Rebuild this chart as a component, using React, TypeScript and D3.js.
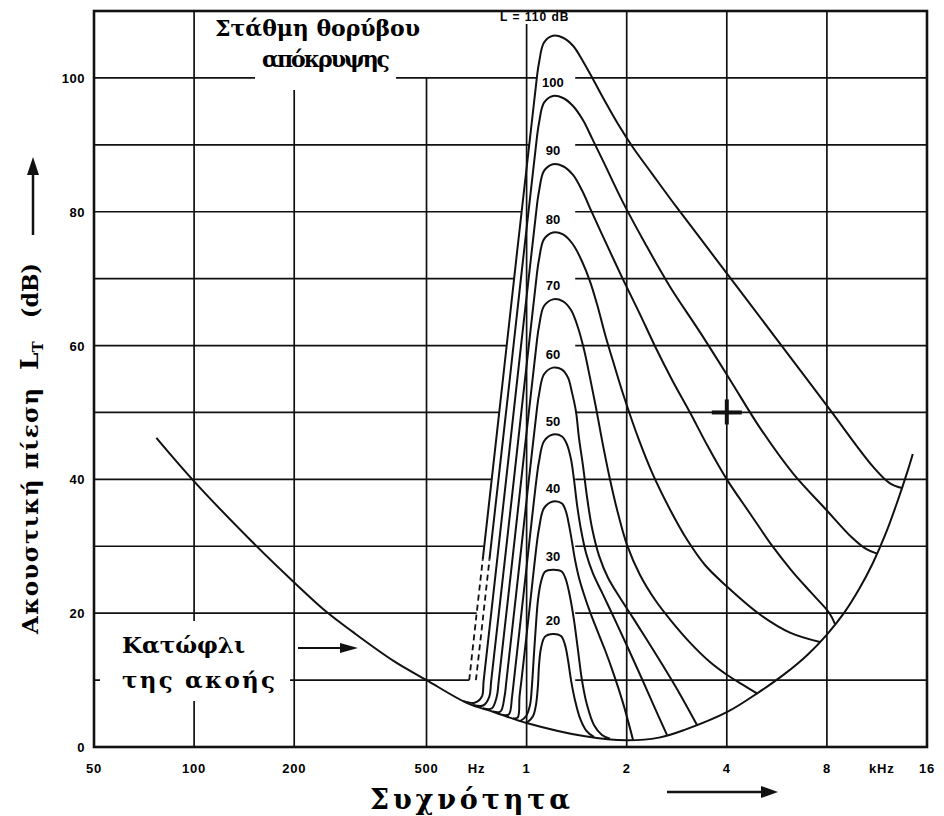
import React from 'react';
import * as d3 from 'd3';

type Pt = [number, number];

// ---- data (frequency in Hz, level in dB) ----
const hearingThreshold: Pt[] = [
  [77, 46.2], [100, 39.7], [150, 30.6], [200, 24.6], [250, 20.2], [300, 17.2], [400, 12.8],
  [500, 10.0], [660, 6.6], [800, 5.2], [1000, 3.6], [1500, 1.6], [2000, 1.0], [2500, 1.4],
  [3000, 2.6], [4000, 5.2], [5000, 8.2], [6000, 11], [7000, 13.8], [8000, 16.8], [9000, 20],
  [10000, 23.6], [11000, 27.5], [12000, 31.8], [13000, 36.5], [14000, 41.3], [14500, 43.8],
];

const noise110Dashed: Pt[] = [[672, 10], [704, 19], [738, 28]];
const noise110: Pt[] = [
  [738, 28], [849, 55], [1075, 100.3], [1090, 102.3], [1128, 105.3], [1200, 106.3], [1287, 106.0],
  [1379, 104.8], [1477, 102.5], [1584, 99.8], [1721, 96.5], [1883, 93.1], [2089, 89.6],
  [2382, 85.7], [2833, 80.6], [4000, 70.8], [5662, 60.9], [8115, 50.6], [11007, 41.9],
  [12382, 39.4], [13455, 38.7],
];
const noise100Dashed: Pt[] = [[704, 10], [738, 19], [773, 28]];
const noise100: Pt[] = [
  [773, 28], [890, 55], [1075, 91.3], [1090, 93.3], [1128, 96.3], [1200, 97.3], [1287, 97.0],
  [1379, 95.8], [1477, 93.7], [1572, 91.0], [1709, 87.3], [1949, 81.4], [2270, 75.3],
  [2699, 68.8], [3322, 62.0], [4089, 54.9], [5033, 47.7], [6325, 40.9], [7947, 35.5],
  [9515, 31.3], [10486, 29.6], [11317, 28.9],
];
const noise90: Pt[] = [
  [644, 6.9], [697, 6.6], [733, 7.5], [743, 10], [893, 45.5], [1075, 81.1], [1090, 83.1],
  [1128, 86.1], [1200, 87.1], [1287, 86.8], [1379, 85.5], [1467, 83.2], [1572, 79.9],
  [1745, 75.0], [1949, 69.9], [2177, 65.0], [2433, 59.9], [2736, 54.9], [3100, 50.0],
  [3511, 44.9], [4000, 40.0], [4697, 34.9], [5508, 29.9], [6282, 26.3], [7164, 23.1],
  [8115, 20.1], [8459, 18.4],
];
const noise80: Pt[] = [
  [690, 6.3], [740, 6.2], [772, 7.5], [783, 10], [918, 40.5], [1075, 70.9], [1090, 72.9],
  [1128, 75.9], [1200, 76.9], [1287, 76.6], [1379, 75.1], [1467, 72.6], [1551, 69.6],
  [1628, 66.2], [1721, 61.7], [1831, 57.2], [1976, 51.9], [2177, 45.9], [2399, 40.7],
  [2699, 35.5], [3036, 31.0], [3439, 27.2], [4000, 24.0], [5033, 19.8], [6195, 17.1], [7624, 15.7],
];
const noise70: Pt[] = [
  [739, 5.8], [785, 5.75], [813, 7.5], [825, 10], [942, 35.5], [1075, 60.9], [1090, 62.9],
  [1128, 65.9], [1200, 66.9], [1287, 66.6], [1360, 65.3], [1427, 62.7], [1488, 59.4],
  [1551, 55.2], [1617, 50.7], [1685, 45.9], [1769, 40.7], [1870, 35.5], [2004, 30.2],
  [2193, 25.7], [2433, 22.0], [2736, 18.7], [3100, 15.6], [3560, 12.7], [4000, 10.8],
  [4537, 9.1], [4930, 8.0],
];
const noise60: Pt[] = [
  [792, 5.3], [834, 5.3], [858, 7.5], [870, 10], [967, 30.4], [1075, 50.7], [1090, 52.7],
  [1128, 55.7], [1200, 56.7], [1278, 56.4], [1332, 55.2], [1369, 53.0], [1408, 50.1],
  [1437, 46.2], [1477, 42.1], [1519, 37.4], [1572, 32.8], [1651, 28.6], [1757, 25.3],
  [1909, 22.3], [2089, 19.3], [2302, 16.0], [2553, 12.4], [2892, 7.9], [3254, 3.3],
];
const noise50: Pt[] = [
  [849, 4.8], [885, 4.9], [904, 7.5], [916, 10], [992, 25.4], [1075, 40.7], [1090, 42.7],
  [1128, 45.7], [1200, 46.7], [1278, 46.4], [1323, 45.2], [1360, 43.0], [1388, 40.0],
  [1418, 36.2], [1457, 32.5], [1509, 29.0], [1584, 25.9], [1685, 23.1], [1844, 19.0],
  [2018, 14.8], [2208, 10.5], [2416, 6.1], [2643, 1.8],
];
const noise40: Pt[] = [
  [910, 4.3], [940, 4.4], [952, 7.5], [965, 10], [1019, 20.4], [1075, 30.7], [1090, 32.7],
  [1128, 35.7], [1200, 36.7], [1278, 36.4], [1313, 35.2], [1341, 33.2], [1369, 30.7],
  [1398, 28.0], [1437, 25.3], [1488, 22.8], [1551, 20.2], [1628, 17.5], [1721, 14.5],
  [1819, 11.2], [1949, 6.6], [2089, 1.1],
];
const noise30: Pt[] = [
  [955, 3.85], [996, 4.6], [1024, 6.3], [1038, 9.3], [1052, 13.8], [1067, 18.3], [1082, 22.0],
  [1105, 24.7], [1136, 26.2], [1200, 26.5], [1278, 26.2], [1313, 25.0], [1350, 22.5],
  [1388, 19.0], [1427, 14.5], [1467, 10.0], [1519, 6.3], [1594, 3.3], [1685, 1.8], [1781, 1.25],
];
const noise20: Pt[] = [
  [1000, 3.6], [1045, 4.6], [1067, 6.3], [1082, 9.3], [1090, 12.3], [1105, 14.8], [1136, 16.5],
  [1200, 16.9], [1269, 16.6], [1304, 15.3], [1332, 13.0], [1360, 10.0], [1398, 7.0],
  [1447, 4.3], [1509, 2.5], [1594, 1.5],
];

const noiseLevels = [110, 100, 90, 80, 70, 60, 50, 40, 30, 20];
const noiseCurves: Pt[][] = [noise110, noise100, noise90, noise80, noise70, noise60, noise50, noise40, noise30, noise20];
const dashedCurves: Pt[][] = [noise110Dashed, noise100Dashed];

const gridFreqsFull = [100, 1000, 2000, 4000, 8000];
const gridFreqsShort = [200, 500];
const gridLevels = [10, 20, 30, 40, 50, 60, 70, 80, 90, 100];
const yTickValues = [0, 20, 40, 60, 80, 100];
const xTickLabels: [number, string][] = [
  [50, '50'], [100, '100'], [200, '200'], [500, '500'], [707, 'Hz'], [1000, '1'],
  [2000, '2'], [4000, '4'], [8000, '8'], [11700, 'kHz'], [16000, '16'],
];
const markerPoint: Pt = [4000, 50];

const SERIF = '"DejaVu Serif", "Liberation Serif", serif';
const SANS = '"Liberation Sans", Arial, sans-serif';

export default function App() {
  const x = d3.scaleLog().domain([50, 16000]).range([94, 927]);
  const y = d3.scaleLinear().domain([0, 110]).range([747, 11]);
  const curve = d3
    .line<Pt>()
    .x((d) => x(d[0]))
    .y((d) => y(d[1]))
    .curve(d3.curveCatmullRom.alpha(0.5));
  const poly = d3
    .line<Pt>()
    .x((d) => x(d[0]))
    .y((d) => y(d[1]));

  // white area inside the bundle of noise curves (grid hidden there)
  const peak110 = noise110.reduce((a, b) => (b[1] > a[1] ? b : a));
  const peakIdx = noise110.indexOf(peak110);
  const fanRightHz = 1400;
  const fanMask: Pt[] = [
    ...noise110Dashed,
    ...noise110.slice(1, peakIdx + 1),
    [fanRightHz, peak110[1]],
    [fanRightHz, 9],
    [noise110Dashed[0][0], 9],
  ];

  const black = '#111';

  return (
    <svg
      width={944}
      height={816}
      style={{ position: 'absolute', left: 0, top: 0, background: '#fff' }}
    >
      <rect x={0} y={0} width={944} height={816} fill="#fff" />

      {/* horizontal grid */}
      {gridLevels.map((v) => (
        <line key={'h' + v} x1={x(50)} x2={x(16000)} y1={y(v)} y2={y(v)} stroke={black} strokeWidth={1.7} />
      ))}

      {/* hide grid inside noise bundle */}
      <path d={(poly(fanMask) || '') + 'Z'} fill="#fff" />

      {/* vertical grid */}
      {gridFreqsFull.map((f) => (
        <line key={'v' + f} x1={x(f)} x2={x(f)} y1={y(0)} y2={y(110)} stroke={black} strokeWidth={1.7} />
      ))}
      {gridFreqsShort.map((f) => (
        <line key={'vs' + f} x1={x(f)} x2={x(f)} y1={y(0)} y2={y(100)} stroke={black} strokeWidth={1.7} />
      ))}

      {/* text backgrounds */}
      <rect x={206} y={13} width={222} height={31} fill="#fff" />
      <rect x={255} y={44} width={141} height={46} fill="#fff" />
      <rect x={100} y={621} width={190} height={80} fill="#fff" />
      <rect x={497} y={11} width={86} height={13} fill="#fff" />

      {/* frame */}
      <rect x={x(50)} y={y(110)} width={x(16000) - x(50)} height={y(0) - y(110)} fill="none" stroke={black} strokeWidth={2.6} />

      {/* threshold of hearing */}
      <path d={curve(hearingThreshold) || ''} fill="none" stroke={black} strokeWidth={2} />

      {/* masking curves */}
      {noiseCurves.map((c, i) => (
        <path key={'n' + i} d={curve(c) || ''} fill="none" stroke={black} strokeWidth={2} strokeLinejoin="round" />
      ))}
      {dashedCurves.map((c, i) => (
        <path key={'d' + i} d={curve(c) || ''} fill="none" stroke={black} strokeWidth={1.8} strokeDasharray="6 4" />
      ))}

      {/* level labels */}
      {noiseCurves.map((c, i) => {
        const pk = c.reduce((a, b) => (b[1] > a[1] ? b : a));
        if (noiseLevels[i] === 110) {
          return (
            <text key={'l' + i} x={500} y={y(108.5)} fontFamily={SANS} fontWeight="bold" fontSize={12} letterSpacing={1}>
              L = 110 dB
            </text>
          );
        }
        return (
          <text key={'l' + i} x={x(pk[0])} y={y(pk[1] + 2)} dy={4.5} textAnchor="middle" fontFamily={SANS} fontWeight="bold" fontSize={13}>
            {noiseLevels[i]}
          </text>
        );
      })}

      {/* + marker */}
      <line x1={x(markerPoint[0]) - 15} x2={x(markerPoint[0]) + 15} y1={y(markerPoint[1])} y2={y(markerPoint[1])} stroke={black} strokeWidth={4} />
      <line x1={x(markerPoint[0])} x2={x(markerPoint[0])} y1={y(markerPoint[1]) - 13} y2={y(markerPoint[1]) + 12} stroke={black} strokeWidth={4} />

      {/* tick labels */}
      {xTickLabels.map(([f, t]) => (
        <text key={'xt' + t} x={x(f)} y={773} textAnchor="middle" fontFamily={SANS} fontWeight="bold" fontSize={13} letterSpacing={0.8}>
          {t}
        </text>
      ))}
      {yTickValues.map((v) => (
        <text key={'yt' + v} x={85} y={y(v) + 5} textAnchor="end" fontFamily={SANS} fontWeight="bold" fontSize={13} letterSpacing={0.5}>
          {v}
        </text>
      ))}

      {/* title */}
      <text x={215} y={36} fontFamily={SERIF} fontWeight="bold" fontSize={22} textLength={205} lengthAdjust="spacing">
        Στάθμη θορύβου
      </text>
      <text x={262} y={67} fontFamily={SERIF} fontWeight="bold" fontSize={22} textLength={128} lengthAdjust="spacing">
        απόκρυψης
      </text>

      {/* threshold label */}
      <text x={122} y={653} fontFamily={SERIF} fontWeight="bold" fontSize={23}>
        Κατώφλι
      </text>
      <text x={122} y={688} fontFamily={SERIF} fontWeight="bold" fontSize={23} textLength={153} lengthAdjust="spacing">
        της ακοής
      </text>
      <line x1={298} x2={342} y1={648} y2={648} stroke={black} strokeWidth={2} />
      <polygon points="340,643 358,648 340,653" fill={black} />

      {/* x axis title */}
      <text x={370} y={809} fontFamily={SERIF} fontWeight="bold" fontSize={27} textLength={200} lengthAdjust="spacing">
        Συχνότητα
      </text>
      <line x1={667} x2={763} y1={792} y2={792} stroke={black} strokeWidth={2.5} />
      <polygon points="761,786 778,792 761,798" fill={black} />

      {/* y axis title */}
      <text transform="translate(38,634) rotate(-90)" fontFamily={SERIF} fontWeight="bold" fontSize={23} textLength={246} lengthAdjust="spacing">
        Ακουστική πίεση
      </text>
      <text transform="translate(38,370) rotate(-90)" fontFamily={SERIF} fontWeight="bold" fontSize={25}>
        L<tspan fontSize={15} dy={5}>T</tspan>
      </text>
      <text transform="translate(38,318) rotate(-90)" fontFamily={SERIF} fontWeight="bold" fontSize={22} textLength={55} lengthAdjust="spacing">
        (dB)
      </text>
      <line x1={33} x2={33} y1={235} y2={172} stroke={black} strokeWidth={2.5} />
      <polygon points="27,175 33,157 39,175" fill={black} />
    </svg>
  );
}
